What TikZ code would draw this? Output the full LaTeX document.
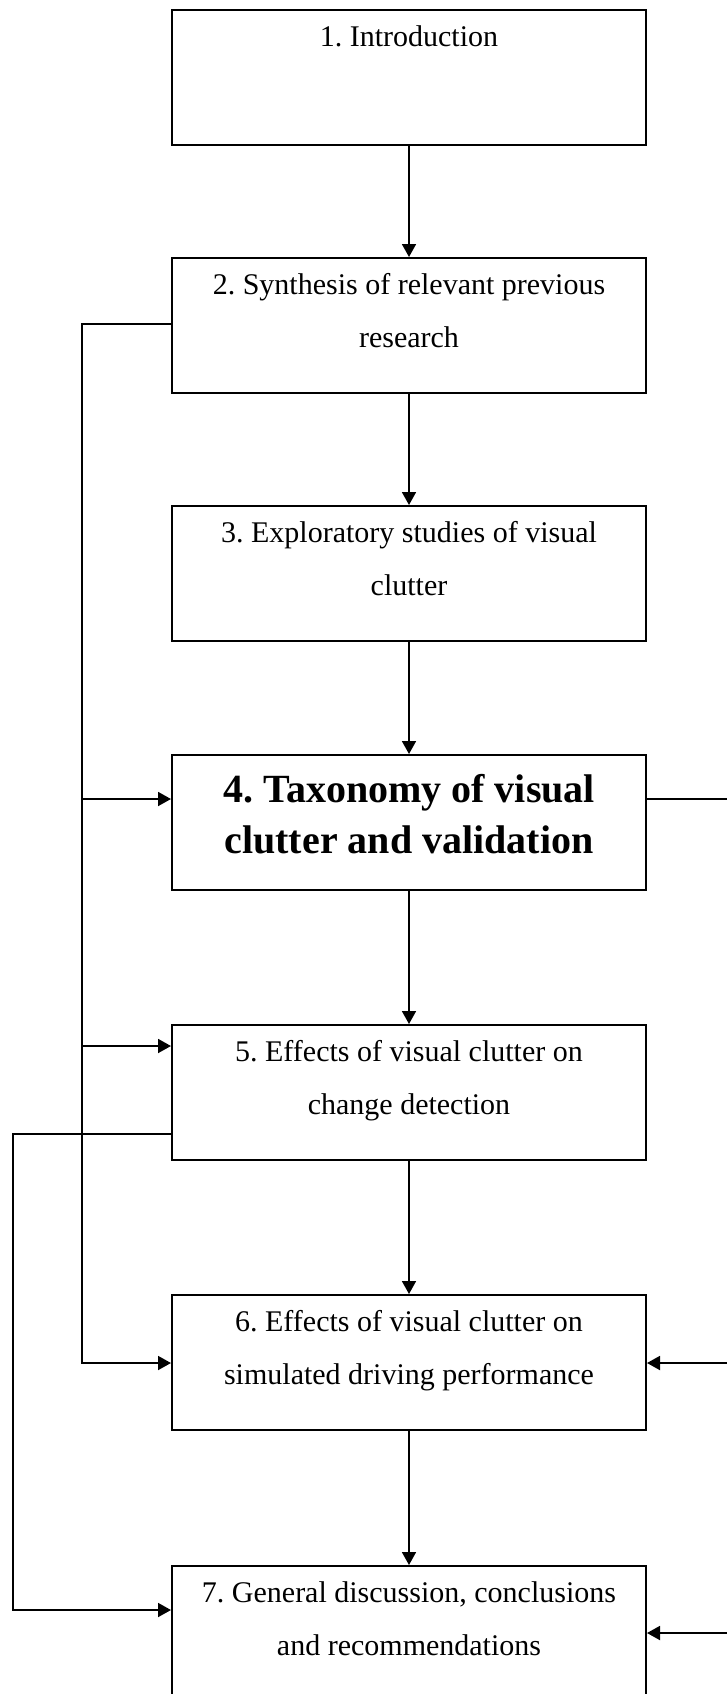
\documentclass[tikz,border=0pt]{standalone}
\usepackage{fontspec}
\setmainfont{Liberation Serif}
\usetikzlibrary{arrows.meta}
\frenchspacing
\begin{document}
\begin{tikzpicture}[x=1pt,y=-1pt,
  box/.style={draw,line width=2pt,minimum width=474pt,minimum height=135pt,inner sep=0pt,anchor=north west},
  txt/.style={font=\fontsize{30}{53}\selectfont,align=center,anchor=north,inner sep=0pt},
  btxt/.style={font=\fontsize{40}{51}\selectfont\bfseries,align=center,anchor=north,inner sep=0pt},
  conn/.style={line width=1.8pt},
  arr/.style={line width=1.8pt,-{Triangle[length=13pt,width=14pt]}}]
\path[use as bounding box,clip] (0,0) rectangle (727,1694);
\node[box] (b1) at (171,9) {};
\node[box] (b2) at (171,257) {};
\node[box] (b3) at (171,505) {};
\node[box] (b4) at (171,754) {};
\node[box] (b5) at (171,1024) {};
\node[box] (b6) at (171,1294) {};
\node[box] (b7) at (171,1565) {};
\node[txt] (t1) at ([yshift=-16pt]b1.north) {1. Introduction};
\node[txt] (t2) at ([yshift=-16pt]b2.north) {2. Synthesis of relevant previous\\research};
\node[txt] (t3) at ([yshift=-16pt]b3.north) {3. Exploratory studies of visual\\clutter};
\node[btxt] (t4) at ([yshift=-20pt]b4.north) {4. Taxonomy of visual\\clutter and validation};
\node[txt] (t5) at ([yshift=-16pt]b5.north) {5. Effects of visual clutter on\\change detection};
\node[txt] (t6) at ([yshift=-16pt]b6.north) {6. Effects of visual clutter on\\simulated driving performance};
\node[txt] (t7) at ([yshift=-16pt]b7.north) {7. General discussion, conclusions\\and recommendations};
\draw[arr] (b1.south) -- (b2.north);
\draw[arr] (b2.south) -- (b3.north);
\draw[arr] (b3.south) -- (b4.north);
\draw[arr] (b4.south) -- (b5.north);
\draw[arr] (b5.south) -- (b6.north);
\draw[arr] (b6.south) -- (b7.north);
\coordinate (s2) at (82,324);
\coordinate (a4) at (82,799);
\coordinate (a5) at (82,1046);
\coordinate (a6) at (82,1363);
\draw[arr] (b2.west|-s2) -- (s2) -- (a6) -- (b6.west|-a6);
\draw[arr] (a4) -- (b4.west|-a4);
\draw[arr] (a5) -- (b5.west|-a5);
\coordinate (s5) at (13,1134);
\coordinate (a7) at (13,1610);
\draw[arr] (b5.west|-s5) -- (s5) -- (a7) -- (b7.west|-a7);
\coordinate (r4) at (727,799);
\coordinate (r6) at (727,1363);
\coordinate (r7) at (727,1633);
\draw[conn] (b4.east|-r4) -- (r4);
\draw[arr] (r6) -- (b6.east|-r6);
\draw[arr] (r7) -- (b7.east|-r7);
\end{tikzpicture}
\end{document}
